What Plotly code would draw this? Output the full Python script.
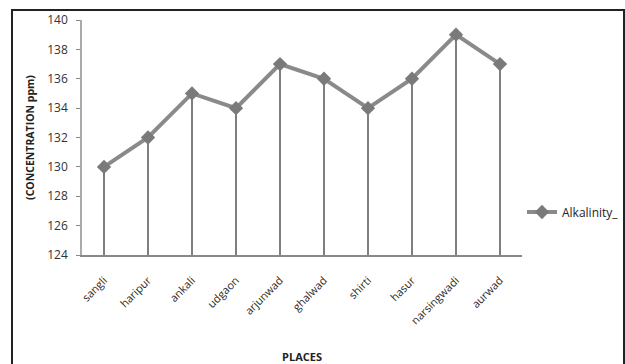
import plotly.graph_objects as go

places = ["sangli", "haripur", "ankali", "udgaon", "arjunwad", "ghalwad",
          "shirti", "hasur", "narsingwadi", "aurwad"]
alkalinity = [130, 132, 135, 134, 137, 136, 134, 136, 139, 137]
y_ticks = [124, 126, 128, 130, 132, 134, 136, 138, 140]
y_min, y_max = 124, 140

# drop lines from each point to the axis
drop_x, drop_y = [], []
for p, v in zip(places, alkalinity):
    drop_x += [p, p, None]
    drop_y += [y_min, v, None]

fig = go.Figure()
fig.add_trace(go.Scatter(
    x=drop_x, y=drop_y, mode="lines",
    line=dict(color="#555555", width=1.5),
    showlegend=False, hoverinfo="skip"))
fig.add_trace(go.Scatter(
    x=places, y=alkalinity, mode="lines+markers", name="Alkalinity_",
    line=dict(color="#8a8a8a", width=4),
    marker=dict(symbol="diamond", size=11, color="#7a7a7a")))

font = "Open Sans"
fig.update_layout(
    width=625, height=364,
    margin=dict(l=82, r=103, t=20, b=109, autoexpand=False),
    paper_bgcolor="white", plot_bgcolor="white",
    font=dict(family=font, size=11, color="#333333"),
    showlegend=True,
    legend=dict(x=1.0, y=0.183, xanchor="left", yanchor="middle",
                font=dict(size=12, color="#222222"),
                bgcolor="rgba(0,0,0,0)", itemwidth=30),
    xaxis=dict(type="category", range=[-0.5, 9.5], tickangle=-45,
               automargin=False,
               showline=True, linecolor="#888888", linewidth=1.5,
               showgrid=False, ticks="", zeroline=False,
               ticklabelstandoff=13,
               tickfont=dict(size=11, color="#2a2a2a"),
               title=dict(text="<b>PLACES</b>", font=dict(size=11, color="#222222"),
                          standoff=36)),
    yaxis=dict(range=[y_min, y_max], tickvals=y_ticks, automargin=False,
               showline=True, linecolor="#aaaaaa", linewidth=1.5,
               showgrid=False, ticks="outside", ticklen=4, tickcolor="#888888",
               ticklabelstandoff=6,
               zeroline=False, tickfont=dict(size=12, color="#333333"),
               title=dict(text="<b>(CONCENTRATION ppm)</b>",
                          font=dict(size=10.5, color="#222222"), standoff=11)),
    shapes=[dict(type="rect", xref="paper", yref="paper",
                 x0=(12 - 82) / 440, x1=(624 - 82) / 440,
                 y0=(255 - 380) / 235, y1=(255 - 10) / 235,
                 line=dict(color="#222222", width=2), fillcolor="rgba(0,0,0,0)",
                 layer="below")],
)

fig.write_html("out.html")
